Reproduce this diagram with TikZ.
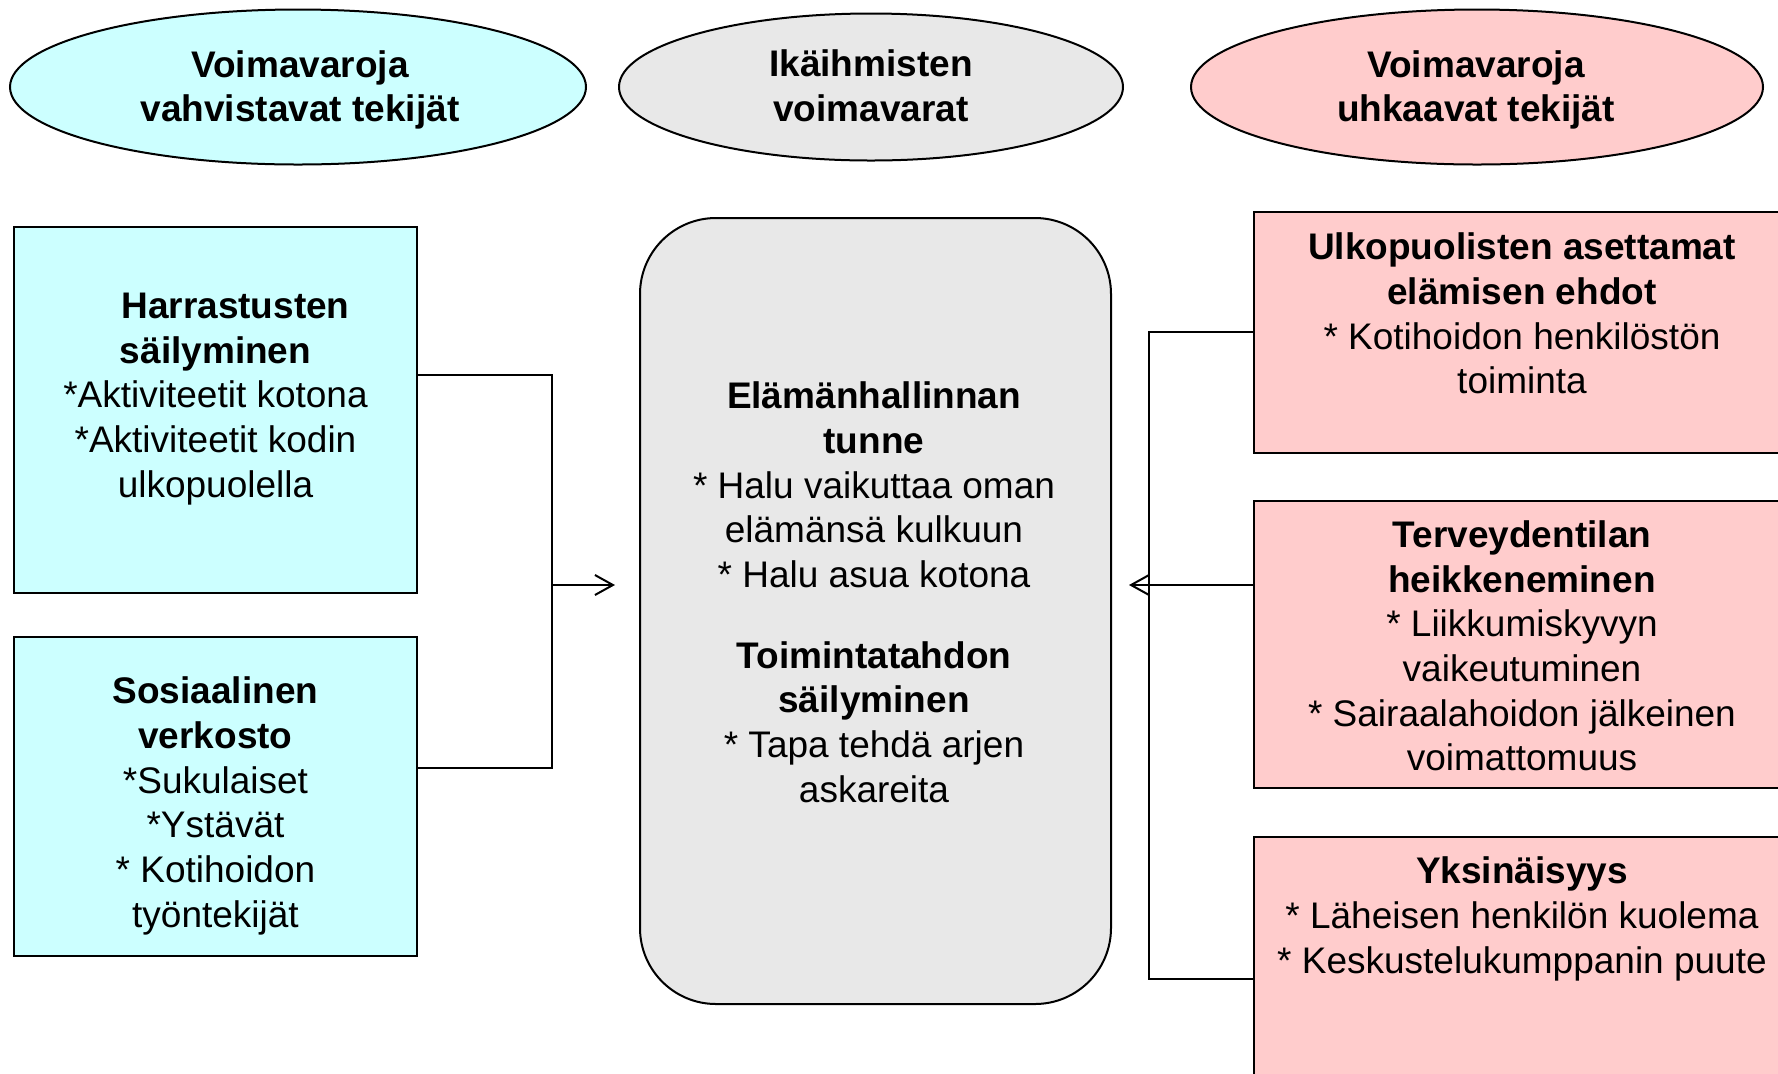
\documentclass[tikz,border=0pt]{standalone}
\usepackage{fontspec}
\setmainfont{Liberation Sans}
\usetikzlibrary{shapes.geometric,arrows.meta}
\definecolor{cyanf}{HTML}{CCFFFF}
\definecolor{grayf}{HTML}{E8E8E8}
\definecolor{pinkf}{HTML}{FFCCCC}
\begin{document}
\begin{tikzpicture}[x=0.5pt,y=-0.5pt,
  every node/.style={font=\fontsize{18.5}{22.35}\selectfont},
  oval/.style={ellipse,draw=black,line width=1pt,inner sep=0pt},
  box/.style={rectangle,draw=black,line width=1pt,inner sep=0pt},
  txt/.style={align=center,inner sep=0pt},
  conn/.style={line width=1pt},
  arr/.style={line width=1pt,-{Straight Barb[length=9pt,width=10pt]}}]
\useasboundingbox (0,0) rectangle (1778,1073);
\clip (0,0) rectangle (1778,1073);
% ellipses
\node[oval,fill=cyanf,minimum width=288pt,minimum height=77.5pt] (e1) at (298,87) {};
\node[txt] (e1t) at (300,90) {\bfseries Voimavaroja\\\bfseries vahvistavat tekijät};
\node[oval,fill=grayf,minimum width=252pt,minimum height=73.5pt] (e2) at (871,87) {};
\node[txt] (e2t) at (871,86) {\bfseries Ikäihmisten\\\bfseries voimavarat};
\node[oval,fill=pinkf,minimum width=286pt,minimum height=77.5pt] (e3) at (1477,87) {};
\node[txt] (e3t) at (1476,90) {\bfseries Voimavaroja\\\bfseries uhkaavat tekijät};
% left boxes
\node[box,fill=cyanf,minimum width=201.75pt,minimum height=183pt] (lb1) at (215.5,410) {};
\node[txt] (lb1t) at (215.5,399) {\hspace*{20pt}\bfseries Harrastusten\\\bfseries säilyminen\\*Aktiviteetit kotona\\*Aktiviteetit kodin\\ulkopuolella};
\node[box,fill=cyanf,minimum width=201.75pt,minimum height=159.5pt] (lb2) at (215.5,796.5) {};
\node[txt] (lb2t) at (215.5,806) {\bfseries Sosiaalinen\\\bfseries verkosto\\*Sukulaiset\\*Ystävät\\* Kotihoidon\\työntekijät};
% center box
\node[box,fill=grayf,rounded corners=38pt,minimum width=235.5pt,minimum height=393pt] (cb) at (875.5,611) {};
\node[txt] (cbt1) at (874,485) {\bfseries Elämänhallinnan\\\bfseries tunne\\* Halu vaikuttaa oman\\elämänsä kulkuun\\* Halu asua kotona};
\node[txt] (cbt2) at (874,722) {\bfseries Toimintatahdon\\\bfseries säilyminen\\* Tapa tehdä arjen\\askareita};
% right boxes
\node[box,fill=pinkf,minimum width=273pt,minimum height=120.5pt] (rb1) at (1527,332.5) {};
\node[txt] (rb1t) at (1522,313.5) {\bfseries Ulkopuolisten asettamat\\\bfseries elämisen ehdot\\* Kotihoidon henkilöstön\\toiminta};
\node[box,fill=pinkf,minimum width=273pt,minimum height=143.5pt] (rb2) at (1527,644.5) {};
\node[txt] (rb2t) at (1522,646) {\bfseries Terveydentilan\\\bfseries heikkeneminen\\* Liikkumiskyvyn\\vaikeutuminen\\* Sairaalahoidon jälkeinen\\voimattomuus};
\node[box,fill=pinkf,minimum width=273pt,minimum height=126.5pt] (rb3) at (1527,963.5) {};
\node[txt] (rb3t) at (1522,919) {\bfseries Yksinäisyys\\* Läheisen henkilön kuolema\\* Keskustelukumppanin puute};
% left connectors
\coordinate (jlt) at (552,375);
\coordinate (jlb) at (552,768);
\coordinate (jlm) at (552,585);
\draw[conn] (lb1.east |- jlt) -- (jlt) -- (jlb) -- (lb2.east |- jlb);
\draw[arr] (jlm) -- ([xshift=-12pt]cb.west |- jlm);
% right connectors
\coordinate (jrt) at (1149,332);
\coordinate (jrb) at (1149,979);
\coordinate (jrm) at (1149,585);
\draw[conn] (rb1.west |- jrt) -- (jrt) -- (jrb) -- (rb3.west |- jrb);
\draw[arr] (rb2.west |- jrm) -- ([xshift=8.5pt]cb.east |- jrm);
\end{tikzpicture}
\end{document}
